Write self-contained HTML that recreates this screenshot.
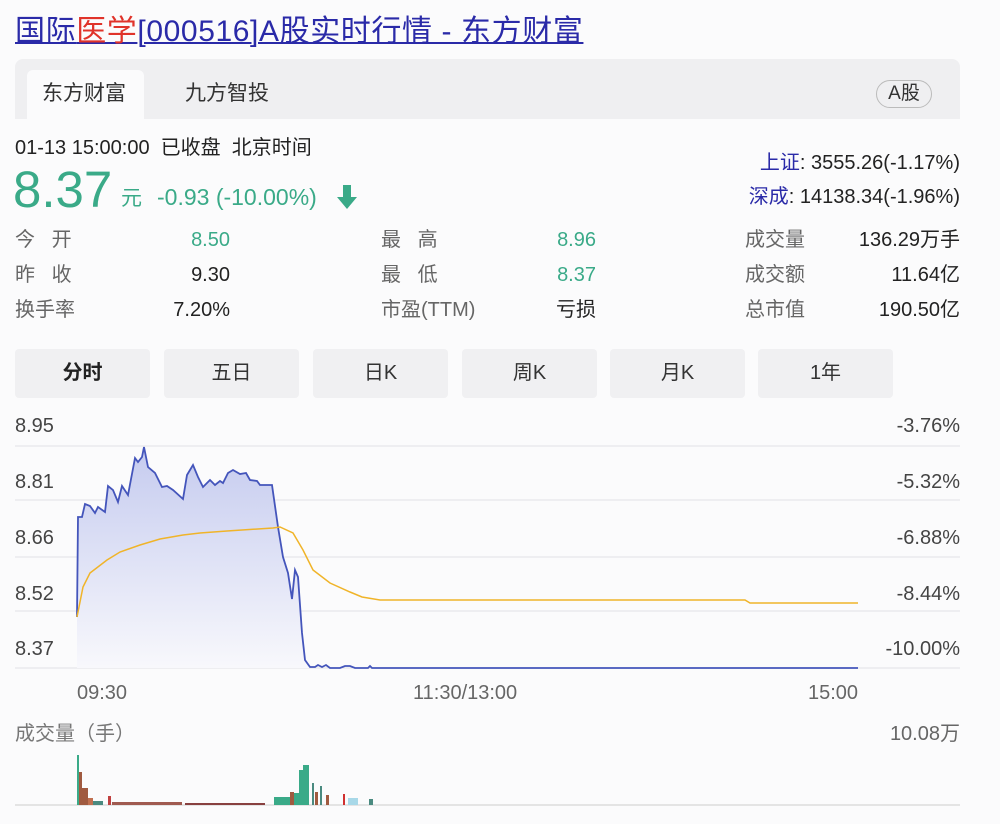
<!DOCTYPE html>
<html><head><meta charset="utf-8"><style>
body{margin:0;width:1000px;height:824px;background:#fbfbfc;position:relative;overflow:hidden;font-family:"Liberation Sans","Noto Sans CJK SC",sans-serif;color:#222}
.a{position:absolute;white-space:nowrap;line-height:24px}
.g{color:#666}
.gr{color:#3aaa88}
.tab{position:absolute;top:349px;width:135px;height:49px;background:#f0f0f2;border-radius:4px;text-align:center;line-height:49px;font-size:20px;color:#333}
</style></head><body>
<div class="a" style="left:15px;top:17px;font-size:30px;letter-spacing:0.6px;line-height:30px;color:#2a2aa8;text-decoration:underline;text-decoration-thickness:2px">国际<span style="color:#e0332a">医学</span>[000516]A股实时行情 - 东方财富</div>
<div class="a" style="left:15px;top:59px;width:945px;height:60px;background:#efeff1;border-radius:8px 8px 0 0"></div>
<div class="a" style="left:27px;top:70px;width:117px;height:49px;background:#fbfbfc;border-radius:6px 6px 0 0"></div>
<div class="a" style="left:42px;top:82px;font-size:21px;color:#333">东方财富</div>
<div class="a" style="left:185px;top:82px;font-size:21px;color:#333">九方智投</div>
<div class="a" style="left:876px;top:80px;width:54px;height:26px;border:1px solid #bbb;border-radius:14px;font-size:19px;text-align:center;line-height:26px;color:#333">A股</div>
<div class="a" style="left:15px;top:136px;font-size:20px">01-13 15:00:00&nbsp;&nbsp;已收盘&nbsp;&nbsp;北京时间</div>
<div class="a gr" style="left:13px;top:164px;font-size:51px;line-height:52px">8.37</div>
<div class="a gr" style="left:121px;top:187px;font-size:21px">元</div>
<div class="a gr" style="left:157px;top:185px;font-size:23px">-0.93 (-10.00%)</div>
<svg class="a" style="left:335px;top:183px" width="24" height="28"><path d="M8 2h8v12h6L12 26 2 14h6z" fill="#3aaa88"/></svg>
<div class="a" style="right:40px;top:151px;font-size:20px"><span style="color:#2a2aa8">上证</span>: 3555.26(-1.17%)</div>
<div class="a" style="right:40px;top:185px;font-size:20px"><span style="color:#2a2aa8">深成</span>: 14138.34(-1.96%)</div>
<div class="a g" style="left:15px;top:228px;font-size:20px">今&nbsp;&nbsp;&nbsp;开</div>
<div class="a g" style="left:15px;top:263px;font-size:20px">昨&nbsp;&nbsp;&nbsp;收</div>
<div class="a g" style="left:15px;top:298px;font-size:20px">换手率</div>
<div class="a gr" style="right:770px;top:228px;font-size:20px">8.50</div>
<div class="a" style="right:770px;top:263px;font-size:20px">9.30</div>
<div class="a" style="right:770px;top:298px;font-size:20px">7.20%</div>
<div class="a g" style="left:381px;top:228px;font-size:20px">最&nbsp;&nbsp;&nbsp;高</div>
<div class="a g" style="left:381px;top:263px;font-size:20px">最&nbsp;&nbsp;&nbsp;低</div>
<div class="a g" style="left:381px;top:298px;font-size:20px">市盈(TTM)</div>
<div class="a gr" style="right:404px;top:228px;font-size:20px">8.96</div>
<div class="a gr" style="right:404px;top:263px;font-size:20px">8.37</div>
<div class="a" style="right:404px;top:298px;font-size:20px">亏损</div>
<div class="a g" style="left:745px;top:228px;font-size:20px">成交量</div>
<div class="a g" style="left:745px;top:263px;font-size:20px">成交额</div>
<div class="a g" style="left:745px;top:298px;font-size:20px">总市值</div>
<div class="a" style="right:40px;top:228px;font-size:20px">136.29万手</div>
<div class="a" style="right:40px;top:263px;font-size:20px">11.64亿</div>
<div class="a" style="right:40px;top:298px;font-size:20px">190.50亿</div>
<div class="tab" style="left:15px;font-weight:bold;color:#222">分时</div>
<div class="tab" style="left:164px">五日</div>
<div class="tab" style="left:313px">日K</div>
<div class="tab" style="left:462px">周K</div>
<div class="tab" style="left:610px">月K</div>
<div class="tab" style="left:758px">1年</div>
<div class="a" style="left:15px;top:414px;font-size:20px;color:#444">8.95</div>
<div class="a" style="left:15px;top:470px;font-size:20px;color:#444">8.81</div>
<div class="a" style="left:15px;top:526px;font-size:20px;color:#444">8.66</div>
<div class="a" style="left:15px;top:582px;font-size:20px;color:#444">8.52</div>
<div class="a" style="left:15px;top:637px;font-size:20px;color:#444">8.37</div>
<div class="a" style="right:40px;top:414px;font-size:20px;color:#444">-3.76%</div>
<div class="a" style="right:40px;top:470px;font-size:20px;color:#444">-5.32%</div>
<div class="a" style="right:40px;top:526px;font-size:20px;color:#444">-6.88%</div>
<div class="a" style="right:40px;top:582px;font-size:20px;color:#444">-8.44%</div>
<div class="a" style="right:40px;top:637px;font-size:20px;color:#444">-10.00%</div>
<div class="a" style="left:77px;top:681px;font-size:20px;color:#666">09:30</div>
<div class="a" style="left:413px;top:681px;font-size:20px;color:#666">11:30/13:00</div>
<div class="a" style="left:808px;top:681px;font-size:20px;color:#666">15:00</div>
<div class="a" style="left:15px;top:722px;font-size:20px;color:#777">成交量（手）</div>
<div class="a" style="right:40px;top:722px;font-size:20px;color:#666">10.08万</div>
<svg class="a" style="left:0;top:0" width="1000" height="824">
<defs><linearGradient id="f" x1="0" y1="0" x2="0" y2="1"><stop offset="0" stop-color="#c5cbef"/><stop offset="1" stop-color="#f8f8fc"/></linearGradient></defs>
<g stroke="#e2e2e6" stroke-width="1">
<line x1="15" y1="446" x2="960" y2="446"/><line x1="15" y1="500" x2="960" y2="500"/><line x1="15" y1="557" x2="960" y2="557"/><line x1="15" y1="611" x2="960" y2="611"/><line x1="15" y1="668" x2="960" y2="668"/>
<line x1="15" y1="805" x2="960" y2="805" stroke="#ccc"/></g>
<path d="M77,617 L78,517 82,517 85,504 90,506 95,513 98,507 105,512 108,486 113,490 118,502 122,486 128,495 135,458 138,462 142,457 144,447 148,467 155,473 162,487 167,486 173,490 183,499 187,475 193,465 198,477 203,487 210,480 215,485 220,481 223,483 228,473 233,470 240,474 246,473 250,480 257,481 260,485 272,485 278,527 283,557 288,573 292,599 295,570 298,577 302,633 305,660 310,667 L310,668 L77,668Z" fill="url(#f)"/>
<polyline fill="none" stroke="#4455bb" stroke-width="1.8" points="77,617 78,517 82,517 85,504 90,506 95,513 98,507 105,512 108,486 113,490 118,502 122,486 128,495 135,458 138,462 142,457 144,447 148,467 155,473 162,487 167,486 173,490 183,499 187,475 193,465 198,477 203,487 210,480 215,485 220,481 223,483 228,473 233,470 240,474 246,473 250,480 257,481 260,485 272,485 278,527 283,557 288,573 292,599 295,570 298,577 302,633 305,660 310,667 315,667 318,665 322,667 326,665 330,668 340,668 345,666 350,666 355,668 368,668 370,666 372,668 858,668"/>
<polyline fill="none" stroke="#f0b429" stroke-width="1.5" points="77,617 83,587 90,573 107,560 120,552 140,545 160,539 183,535 200,533 227,531 273,528 280,527 293,533 303,550 313,570 330,583 350,592 362,597 380,600 745,600 750,603 858,603"/>
<g>
<rect x="77" y="755" width="2" height="50" fill="#3aaa88"/>
<rect x="79" y="772" width="3" height="33" fill="#a05a40"/>
<rect x="82" y="788" width="6" height="17" fill="#a05a40"/>
<rect x="88" y="798" width="5" height="7" fill="#c07050"/>
<rect x="93" y="801" width="10" height="4" fill="#4a8a80"/>
<rect x="108" y="796" width="3" height="9" fill="#c04040"/>
<rect x="112" y="802" width="70" height="3" fill="#a05a50"/>
<rect x="185" y="803" width="80" height="2" fill="#884040"/>
<rect x="274" y="797" width="16" height="8" fill="#3aaa88"/>
<rect x="290" y="792" width="4" height="13" fill="#a05a40"/>
<rect x="294" y="793" width="5" height="12" fill="#3aaa88"/>
<rect x="299" y="770" width="4" height="35" fill="#3aaa88"/>
<rect x="303" y="765" width="6" height="40" fill="#3aaa88"/>
<rect x="312" y="783" width="2" height="22" fill="#4a8a80"/>
<rect x="315" y="792" width="3" height="13" fill="#a05a40"/>
<rect x="320" y="786" width="2" height="19" fill="#4a8a80"/>
<rect x="326" y="795" width="3" height="10" fill="#a05a40"/>
<rect x="343" y="794" width="2" height="11" fill="#d03030"/>
<rect x="348" y="798" width="10" height="7" fill="#a8d8e8"/>
<rect x="369" y="799" width="4" height="6" fill="#4a8a80"/>
</g>
</svg>
</body></html>
